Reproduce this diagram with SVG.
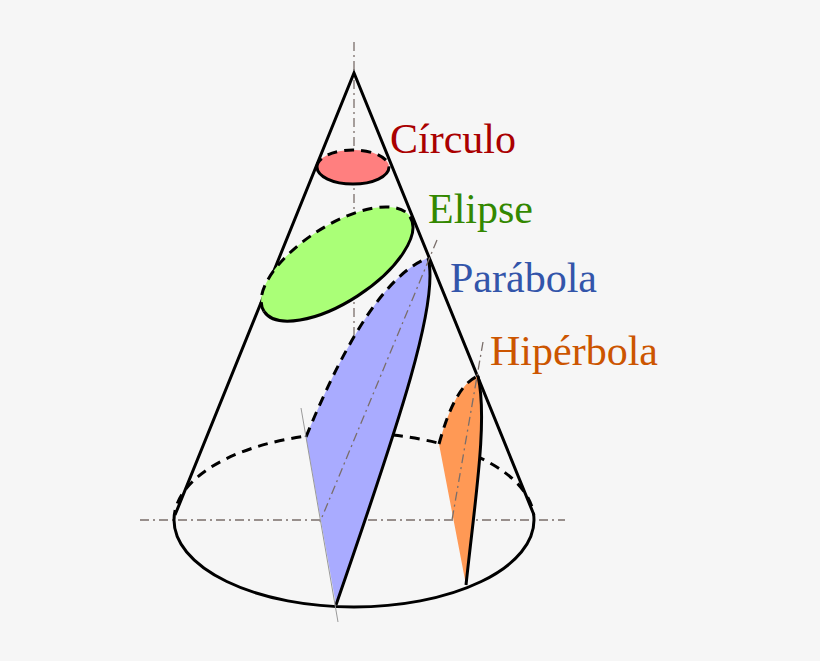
<svg xmlns="http://www.w3.org/2000/svg" width="820" height="661" viewBox="0 0 820 661">
<style>
.s{fill:none;stroke:#000;stroke-width:3}
.d{fill:none;stroke:#000;stroke-width:3;stroke-dasharray:10,7}
.ax{fill:none;stroke:#7a6e6a;stroke-width:1.3;stroke-dasharray:9,4,2,4}
.lb{font-family:"Liberation Serif",serif;font-size:42px}
</style>
<rect width="820" height="661" fill="#f6f6f6"/>
<g id="connectors">
<path class="ax" d="M354,42 V520 M140,520 H565"/>
</g>
<g id="cone">
<path class="s" d="M175,515 L354,73 L534,515"/>
<path class="d" d="M174,520 A180,87 0 0 1 534,520"/>
<path class="s" d="M174,520 A180,87 0 0 0 534,520"/>
</g>
<g id="circulo">
<ellipse cx="353" cy="167" rx="36" ry="17" fill="#ff7f7f"/>
<path class="d" d="M317,167 A36,17 0 0 1 389,167"/>
<path class="s" d="M317,167 A36,17 0 0 0 389,167"/>
</g>
<g id="elipse" transform="translate(337,264) rotate(-33)">
<ellipse rx="87" ry="38" fill="#aaff77"/>
<path class="d" d="M-87,0 A87,38 0 0 1 87,0"/>
<path class="s" d="M-87,0 A87,38 0 0 0 87,0"/>
</g>
<g id="parabola">
<path d="M306,437 Q370,280 428,258 C440,300 400,420 336,605 Z" fill="#a9abff"/>
<path class="d" d="M306,437 Q370,280 428,258"/>
<path class="s" d="M428,258 C440,300 400,420 336,605"/>
<path class="ax" d="M437,240 L320,522"/>
<path fill="none" stroke="#999" stroke-width="1" d="M301,408 L338,622"/>
</g>
<g id="hiperbola">
<path d="M439,444 Q455,385 478,376 C488,420 475,500 466,585 Z" fill="#ff9955"/>
<path class="d" d="M439,444 Q455,385 478,376"/>
<path class="s" d="M478,376 C488,420 475,500 466,585"/>
<path class="ax" d="M483,342 L452,520"/>
</g>
<g id="labels">
<text class="lb" x="390" y="153" fill="#aa0000">Círculo</text>
<text class="lb" x="428" y="223" fill="#338800">Elipse</text>
<text class="lb" x="450" y="292" fill="#3355aa">Parábola</text>
<text class="lb" x="490" y="365" fill="#cc5500">Hipérbola</text>
</g>
</svg>
